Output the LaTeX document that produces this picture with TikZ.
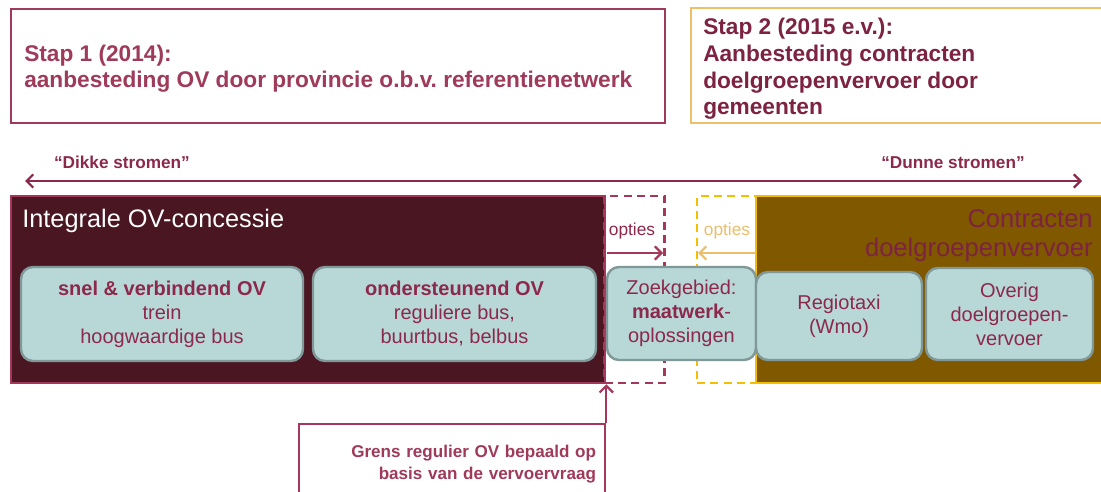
\documentclass[tikz,border=0pt]{standalone}
\usepackage{fontspec}
\setmainfont{Liberation Sans}
\usetikzlibrary{arrows.meta}
\definecolor{stapred}{RGB}{160,58,90}
\definecolor{stapdark}{RGB}{125,35,65}
\definecolor{goldline}{RGB}{236,192,104}
\definecolor{arrowred}{RGB}{140,40,75}
\definecolor{concfill}{RGB}{74,22,34}
\definecolor{concline}{RGB}{165,55,90}
\definecolor{contrfill}{RGB}{127,88,0}
\definecolor{contrline}{RGB}{245,190,0}
\definecolor{tealfill}{RGB}{184,216,216}
\definecolor{tealline}{RGB}{128,152,152}
\definecolor{boxtext}{RGB}{140,40,75}
\definecolor{goldtext}{RGB}{235,190,110}
\frenchspacing
\begin{document}
\begin{tikzpicture}[x=0.75pt, y=-0.75pt, inner sep=0pt, >={Straight Barb[length=5pt,width=10pt,line width=1.6pt]},
wh/.style 2 args={minimum width=#1*0.75pt, minimum height=#2*0.75pt},
stap box/.style={draw, line width=2pt, fill=white},
stap text/.style={anchor=base west, align=left, font=\bfseries\fontsize{17}{20}\selectfont},
teal box/.style={draw=tealline, fill=tealfill, line width=1.8pt, rounded corners=9pt, align=center, text=boxtext, font=\fontsize{15}{18}\selectfont},
big box/.style={draw, line width=2pt},
optie box/.style={draw, dashed, line width=1.8pt, dash pattern=on 6pt off 4pt},
flow/.style={draw=arrowred, line width=1.5pt}]
\useasboundingbox (0,0) rectangle (1101,492);
\clip (0,0) rectangle (1101,492);
%stappen
\node[stap box, draw=stapred, wh={654}{114}] (stap1) at (338,66) {};
\node[stap text, text=stapred] (stap1tekst) at (24,88) {Stap 1 (2014):\\aanbesteding OV door provincie o.b.v. referentienetwerk};
\node[stap box, draw=goldline, wh={420}{115}] (stap2) at (901,65.5) {};
\node[stap text, text=stapdark] (stap2tekst) at (703,115) {Stap 2 (2015 e.v.):\\Aanbesteding contracten\\doelgroepenvervoer door\\gemeenten};
%stromen
\coordinate (dik) at (25,181);
\coordinate (dun) at (1082,181);
\draw[flow, <->] (dik) -- (dun);
\begin{scope}[every node/.style={anchor=base, text=arrowred, font=\bfseries\fontsize{12.9}{15}\selectfont}]
\node (dikke) at (122,169) {“Dikke stromen”};
\node (dunne) at (953,169) {“Dunne stromen”};
\end{scope}
%concessie en contracten
\node[big box, draw=concline, fill=concfill, wh={594}{187}] (conc) at (308,289.5) {};
\node[big box, draw=contrline, fill=contrfill, wh={349}{187}] (contr) at (930.5,289.5) {};
\node[optie box, draw=concline, wh={60}{187}] (optie1) at (634.5,289.5) {};
\node[optie box, draw=contrline, wh={59}{187}] (optie2) at (726.5,289.5) {};
\node[anchor=base west, text=white, font=\fontsize{19}{22}\selectfont] (conctitel) at (22,228) {Integrale OV-concessie};
\node[anchor=base east, align=right, text=stapdark, font=\fontsize{19.2}{22.5}\selectfont] (contrtitel) at (1093,257) {Contracten\\doelgroepenvervoer};
%opties
\node[anchor=base, text=boxtext, font=\fontsize{13}{15}\selectfont] (opt1) at (632,235) {opties};
\node[anchor=base, text=goldtext, font=\fontsize{13}{15}\selectfont] (opt2) at (727,235) {opties};
\coordinate (o1a) at (607,253);
\coordinate (o1b) at (663,253);
\coordinate (o2a) at (756,253);
\coordinate (o2b) at (698,253);
\draw[flow, draw=concline, ->] (o1a) -- (o1b);
\draw[flow, draw=goldtext, ->] (o2a) -- (o2b);
%vervoersvormen
\node[teal box, wh={282}{94}] (snel) at (162,314) {\textbf{snel \& verbindend OV}\\trein\\hoogwaardige bus};
\node[teal box, wh={283}{94}] (onder) at (454.5,314) {\textbf{ondersteunend OV}\\reguliere bus,\\buurtbus, belbus};
\node[teal box, wh={149}{93}] (zoek) at (681.5,313.5) {Zoekgebied:\\\textbf{maatwerk}-\\oplossingen};
\node[teal box, wh={166}{88}] (regio) at (839,316) {Regiotaxi\\(Wmo)};
\node[teal box, wh={167}{92}] (overig) at (1009.5,314) {Overig\\doelgroepen-\\vervoer};
%grens
\node[draw=concline, line width=2pt, fill=white, wh={306}{80}, text width=216pt, inner xsep=6.75pt, align=right, text=stapred, font=\bfseries\fontsize{12.8}{16}\selectfont] (grens) at (452,464) {Grens regulier OV bepaald op\\basis van de vervoervraag};
\draw[flow, draw=concline, ->] (grens.north east) -- (conc.south east);
\end{tikzpicture}
\end{document}
